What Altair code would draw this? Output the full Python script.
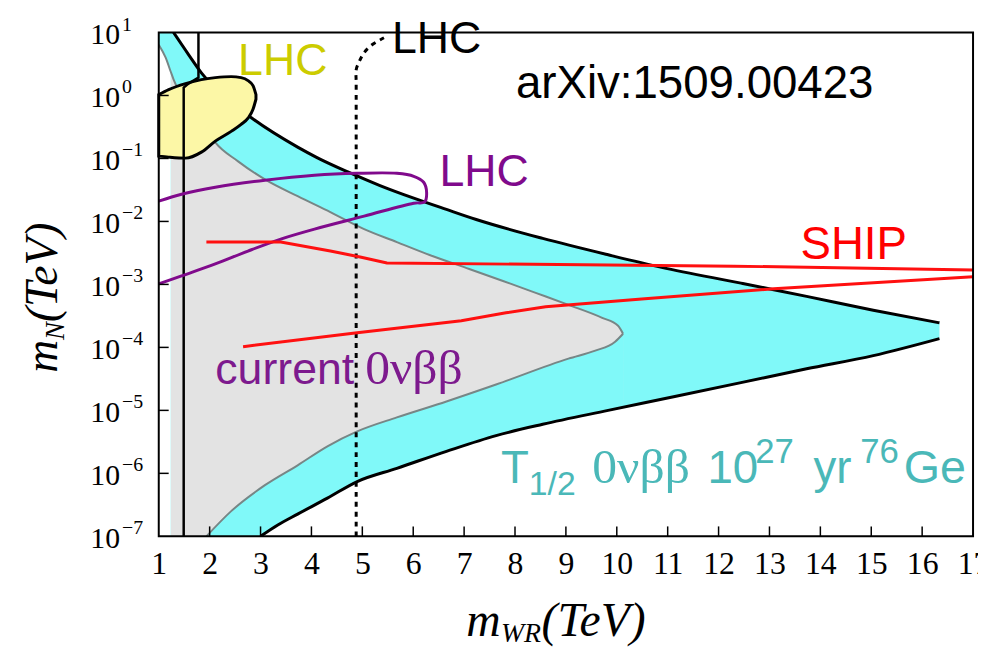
import altair as alt
import pandas as pd

# ---------------- digitised data: x = m_WR (TeV), values = log10(m_N / TeV) ----------------
# outer black contour (T1/2 = 1e27 yr, 76Ge)
blk_up_x = [1.0, 1.29, 1.585, 1.838, 2.3, 2.813, 3.729, 4.119, 4.704, 5.347, 6.01, 6.653,
            7.238, 8.544, 9.83, 10.88, 12.44, 13.73, 15.04, 16.34]
blk_up_l = [1.0, 1.0, 0.65, 0.36, -0.02, -0.35, -0.82, -0.99, -1.21, -1.43, -1.63, -1.81,
            -1.97, -2.27, -2.53, -2.73, -2.98, -3.19, -3.41, -3.61]
blk_lo_x = [3.0, 3.339, 3.729, 4.314, 4.899, 5.678, 6.653, 7.628, 8.544, 9.83, 11.14,
            12.44, 13.73, 15.04, 16.34]
blk_lo_l = [-7.0, -6.82, -6.647, -6.394, -6.13, -5.92, -5.65, -5.40, -5.22, -5.0, -4.78,
            -4.56, -4.34, -4.13, -3.86]
# white cover beyond the tip (outside the contour)
tip_pad_x = [16.7, 17.0]
tip_pad_l = [-3.78, -3.72]

# inner grey contour (current 0vbb)
gr_up_x = [1.0, 1.136, 1.234, 1.292, 1.585, 1.877, 2.111, 2.559, 3.086, 3.729, 4.372, 5.035,
           5.678, 6.322, 7.101, 7.764, 8.407, 9.051, 9.713, 10.025, 10.123]
gr_up_l = [0.805, 0.60, 0.38, 0.252, -0.144, -0.46, -0.745, -1.046, -1.333, -1.60, -1.853,
           -2.122, -2.328, -2.533, -2.755, -2.945, -3.134, -3.324, -3.53, -3.657, -3.783]
gr_lo_x = [1.936, 2.423, 3.086, 3.729, 4.314, 4.899, 5.678, 6.653, 7.628, 9.05, 9.577,
           9.967, 10.123]
gr_lo_l = [-7.0, -6.6, -6.188, -5.872, -5.571, -5.334, -5.112, -4.859, -4.59, -4.179,
           -4.052, -3.91, -3.783]
gr_left_edge = 1.234

# LHC (yellow) excluded blob
blob_x = [1.0, 1.195, 1.526, 1.838, 2.111, 2.423, 2.618, 2.754, 2.852, 2.91]
blob_top = [0.014, 0.093, 0.188, 0.252, 0.283, 0.299, 0.283, 0.236, 0.157, 0.014]
blob_bot = [-0.963, -0.979, -0.995, -0.90, -0.725, -0.57, -0.46, -0.36, -0.22, -0.06]

# solid black vertical LHC line
vline_x = [1.78, 1.78, 1.585, 1.49, 1.49]
vline_l = [1.0, 0.283, 0.188, 0.125, -7.0]

# dotted LHC line
dot_x = [4.879, 4.879, 4.879, 4.938, 5.035, 5.191, 5.425]
dot_l = [-7.0, 0.2, 0.41, 0.536, 0.679, 0.805, 0.916]

# purple LHC contour
pur_x = [1.0, 1.448, 2.111, 3.086, 4.06, 4.899, 5.678, 6.01, 6.205, 6.263, 6.224, 6.01,
         5.035, 4.06, 3.398, 2.754, 2.111, 1.448, 1.0]
pur_l = [-1.679, -1.568, -1.457, -1.346, -1.267, -1.236, -1.236, -1.283, -1.378, -1.536,
         -1.69, -1.71, -1.916, -2.122, -2.28, -2.47, -2.675, -2.865, -2.991]

# SHIP (red) contour
ship_up_x = [1.936, 3.398, 4.372, 4.957, 5.483, 12.3, 17.0]
ship_up_l = [-2.328, -2.328, -2.47, -2.565, -2.66, -2.71, -2.77]
ship_lo_x = [2.657, 4.899, 6.945, 7.823, 8.602, 10.552, 13.086, 17.0]
ship_lo_l = [-3.989, -3.767, -3.578, -3.451, -3.355, -3.229, -3.07, -2.88]

x_ticks = list(range(1, 18))
y_exps = [1, 0, -1, -2, -3, -4, -5, -6, -7]

W, H = 821, 508
CYAN = "#80f9f9"
GREY = "#e3e3e3"


def frame(xs, ls):
    return pd.DataFrame({"x": xs, "y": [10.0 ** v for v in ls], "lo": 1e-7,
                         "i": list(range(len(xs)))})


XS = alt.Scale(domain=[1, 17], nice=False, zero=False)
YS = alt.Scale(type="log", domain=[1e-7, 10], nice=False)
X = alt.X("x:Q", scale=XS,
          axis=alt.Axis(values=x_ticks, format="d", ticks=False, domain=False, grid=False,
                        labelFont="Liberation Serif", labelFontSize=32, labelColor="black",
                        labelPadding=12, labelFlush=False, labelOverlap=False, title=None))
Y = alt.Y("y:Q", scale=YS, axis=None)


def area(df, color):
    return alt.Chart(df).mark_area(color=color, interpolate="monotone", clip=True).encode(
        x=X, y=Y, y2=alt.Y2("lo:Q"))


def curve(df, color, width, interp="monotone", dash=None):
    kw = dict(color=color, strokeWidth=width, interpolate=interp, clip=True)
    if dash:
        kw["strokeDash"] = dash
    return alt.Chart(df).mark_line(**kw).encode(x=X, y=Y, order="i:Q")


def label(text, x, l, color, size, font="Liberation Sans"):
    df = pd.DataFrame({"x": [x], "y": [10.0 ** l], "t": [text]})
    return alt.Chart(df).mark_text(align="left", baseline="alphabetic", font=font,
                                   fontSize=size, color=color).encode(x=X, y=Y, text="t:N")


def ptext(text, px, py, size, angle=0):
    df = pd.DataFrame({"t": [text]})
    return alt.Chart(df).mark_text(align="left", baseline="alphabetic", font="Liberation Serif",
                                   fontStyle="italic", fontSize=size, angle=angle,
                                   color="black").encode(x=alt.value(px), y=alt.value(py),
                                                         text="t:N")


blk_up = frame(blk_up_x, blk_up_l)
blk_lo = frame(blk_lo_x, blk_lo_l)
white_lo = frame(blk_lo_x + tip_pad_x, blk_lo_l + tip_pad_l)
gr_up = frame(gr_up_x, gr_up_l)
gr_lo = frame(gr_lo_x, gr_lo_l)

layers = [
    area(blk_up, CYAN),
    area(gr_up[gr_up.x >= gr_left_edge], GREY),
    area(gr_lo, CYAN),
    area(white_lo, "white"),
    area(gr_up[gr_up.x <= gr_left_edge], "white"),
    curve(gr_up, "#778686", 2),
    curve(gr_lo, "#778686", 2),
    curve(blk_up[blk_up.x >= 1.29], "black", 3),
    curve(blk_lo, "black", 3),
]

blob = pd.DataFrame({"x": blob_x, "y": [10.0 ** v for v in blob_bot],
                     "y2": [10.0 ** v for v in blob_top]})
layers.append(alt.Chart(blob).mark_area(fill="#fcf7a6", stroke="black", strokeWidth=3,
                                        interpolate="monotone").encode(
    x=X, y=Y, y2=alt.Y2("y2:Q")))

layers += [
    curve(frame(vline_x, vline_l), "black", 2.5, interp="linear"),
    curve(frame(dot_x, dot_l), "black", 3, interp="catmull-rom", dash=[5, 5]),
    curve(frame(pur_x, pur_l), "#800a8c", 3, interp="catmull-rom"),
    curve(frame(ship_up_x, ship_up_l), "#ff1010", 3, interp="linear"),
    curve(frame(ship_lo_x, ship_lo_l), "#ff1010", 3, interp="linear"),
]

# frame and inward ticks
layers.append(alt.Chart(pd.DataFrame({"a": [0]})).mark_rect(
    fillOpacity=0, stroke="black", strokeWidth=2).encode(
    x=alt.value(0), x2=alt.value(W), y=alt.value(0), y2=alt.value(H)))
layers.append(alt.Chart(pd.DataFrame({"x": x_ticks[1:-1]})).mark_rule(
    color="black", strokeWidth=1.5).encode(x=X, y=alt.value(H), y2=alt.value(H - 10)))
ytick_df = pd.DataFrame({"y": [10.0 ** e for e in y_exps],
                         "base": ["10"] * len(y_exps),
                         "exp": [str(e).replace("-", "\u2212") for e in y_exps]})
layers.append(alt.Chart(ytick_df.iloc[1:-1]).mark_rule(color="black", strokeWidth=1.5).encode(
    y=Y, x=alt.value(0), x2=alt.value(10)))
layers.append(alt.Chart(ytick_df).mark_text(align="right", baseline="middle", dy=3,
                                            font="Liberation Serif", fontSize=30,
                                            color="black").encode(
    y=Y, x=alt.value(-39), text="base:N"))
layers.append(alt.Chart(ytick_df).mark_text(align="left", baseline="middle", dy=-8,
                                            font="Liberation Serif", fontSize=20,
                                            color="black").encode(
    y=Y, x=alt.value(-37), text="exp:N"))

# axis titles
layers += [
    ptext("m", 310, 608, 48), ptext("WR", 345, 615, 28), ptext("(TeV)", 386, 608, 48),
    ptext("m", -103, 343, 46, angle=270), ptext("N", -96, 310, 27, angle=270),
    ptext("(TeV)", -103, 292, 46, angle=270),
]

# annotations
TEAL = "#4ab8b8"
PURPLE = "#7d1a8e"
layers += [
    label("LHC", 2.559, 0.33, "#cccc00", 45),
    label("LHC", 5.581, 0.68, "black", 45),
    label("arXiv:1509.00423", 8.018, -0.033, "black", 46),
    label("LHC", 6.517, -1.44, "#800a8c", 45),
    label("SHIP", 13.61, -2.596, "#ff0000", 46),
    label("current", 2.111, -4.574, PURPLE, 45),
    label("0νββ", 5.055, -4.574, PURPLE, 50, font="Liberation Serif"),
    label("T", 7.725, -6.157, TEAL, 46),
    label("1/2", 8.271, -6.347, TEAL, 34),
    label("0νββ", 9.519, -6.157, TEAL, 50, font="Liberation Serif"),
    label("10", 11.78, -6.157, TEAL, 46),
    label("27", 12.72, -5.84, TEAL, 35),
    label("yr", 13.865, -6.157, TEAL, 46),
    label("76", 14.782, -5.84, TEAL, 35),
    label("Ge", 15.64, -6.157, TEAL, 47),
]

chart = alt.layer(*layers).properties(
    width=W, height=H,
    padding={"left": 152, "top": 22, "right": 5, "bottom": 122},
    autosize=alt.AutoSizeParams(type="none"),
).configure_view(strokeWidth=0)

chart.save("out.html", embed_options={"renderer": "svg", "actions": False})
